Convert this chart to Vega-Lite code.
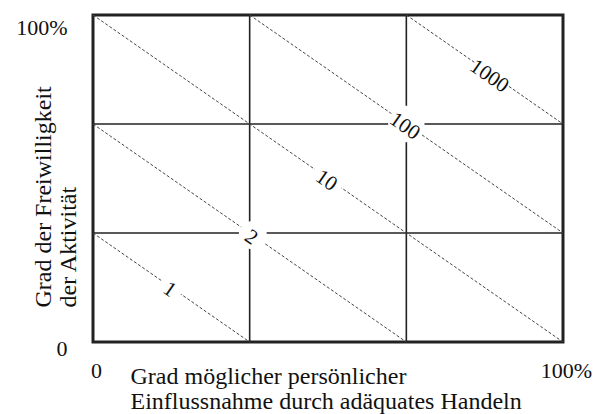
{
  "$schema": "https://vega.github.io/schema/vega-lite/v6.json",
  "autosize": "none",
  "width": 470,
  "height": 327,
  "padding": {"left": 93, "top": 15, "right": 41, "bottom": 72},
  "background": "white",
  "datasets": {
    "grid": [{"v": 1}, {"v": 2}],
    "diag": [
      {"x0": 0, "y0": 1, "x1": 1, "y1": 0},
      {"x0": 0, "y0": 2, "x1": 2, "y1": 0},
      {"x0": 0, "y0": 3, "x1": 3, "y1": 0},
      {"x0": 1, "y0": 3, "x1": 3, "y1": 1},
      {"x0": 2, "y0": 3, "x1": 3, "y1": 2}
    ],
    "labels": [
      {"x": 0.5, "y": 0.5, "label": "1"},
      {"x": 1.02, "y": 0.98, "label": "2"},
      {"x": 1.5, "y": 1.5, "label": "10"},
      {"x": 2, "y": 2, "label": "100"},
      {"x": 2.54, "y": 2.46, "label": "1000"}
    ]
  },
  "layer": [
    {
      "data": {"name": "grid"},
      "mark": {"type": "rule", "color": "#222", "strokeWidth": 1.6},
      "encoding": {
        "x": {"field": "v", "type": "quantitative", "scale": {"domain": [0, 3], "nice": false},
          "axis": {
            "values": [0, 3],
            "labelExpr": "datum.value == 0 ? '0' : '100%'",
            "ticks": false, "tickSize": 0, "domain": false, "grid": false,
            "labelFont": "Liberation Serif", "labelFontSize": 22, "labelColor": "#111",
            "labelBaseline": "alphabetic", "labelPadding": 35, "labelOffset": 3, "labelFlush": false, "labelAlign": "center",
            "title": ["Grad möglicher persönlicher", "Einflussnahme durch adäquates Handeln"],
            "titleFont": "Liberation Serif", "titleFontSize": 24, "titleFontWeight": "normal", "titleColor": "#111",
            "titleAlign": "left", "titleAnchor": "start", "titleBaseline": "alphabetic",
            "titleX": 37, "titleY": 41, "titleLineHeight": 25
          }
        }
      }
    },
    {
      "data": {"name": "grid"},
      "mark": {"type": "rule", "color": "#222", "strokeWidth": 1.6},
      "encoding": {
        "y": {"field": "v", "type": "quantitative", "scale": {"domain": [0, 3], "nice": false},
          "axis": {
            "values": [0, 3],
            "labelExpr": "datum.value == 0 ? '0' : '100%'",
            "ticks": false, "tickSize": 0, "domain": false, "grid": false,
            "labelFont": "Liberation Serif", "labelFontSize": 22, "labelColor": "#111",
            "labelBaseline": "alphabetic", "labelPadding": 26, "labelAlign": "right",
            "labelOffset": {"condition": {"test": "datum.value == 0", "value": 13}, "value": 19},
            "title": ["Grad der Freiwilligkeit", "der Aktivität"],
            "titleFont": "Liberation Serif", "titleFontSize": 24, "titleFontWeight": "normal", "titleColor": "#111",
            "titleAngle": 270, "titleAlign": "left", "titleBaseline": "alphabetic",
            "titleX": -43, "titleY": 292, "titleLineHeight": 25
          }
        }
      }
    },
    {
      "data": {"name": "diag"},
      "mark": {"type": "rule", "color": "#444", "strokeWidth": 1, "strokeDash": [3, 2]},
      "encoding": {
        "x": {"field": "x0", "type": "quantitative"},
        "y": {"field": "y0", "type": "quantitative"},
        "x2": {"field": "x1"},
        "y2": {"field": "y1"}
      }
    },
    {
      "data": {"name": "labels"},
      "mark": {"type": "point", "shape": "circle", "filled": true, "color": "white", "opacity": 1},
      "encoding": {
        "x": {"field": "x", "type": "quantitative"},
        "y": {"field": "y", "type": "quantitative"},
        "size": {"field": "label", "type": "ordinal", "legend": null,
          "scale": {"domain": ["1", "2", "10", "100", "1000"], "range": [530, 1590, 1150, 2200, 2300]}}
      }
    },
    {
      "data": {"name": "labels"},
      "mark": {"type": "text", "angle": 35, "font": "Liberation Serif", "fontSize": 21, "color": "#111", "align": "center", "baseline": "middle", "dy": 3},
      "encoding": {
        "x": {"field": "x", "type": "quantitative"},
        "y": {"field": "y", "type": "quantitative"},
        "text": {"field": "label", "type": "nominal"}
      }
    }
  ],
  "config": {
    "view": {"stroke": "#222", "strokeWidth": 3}
  }
}
